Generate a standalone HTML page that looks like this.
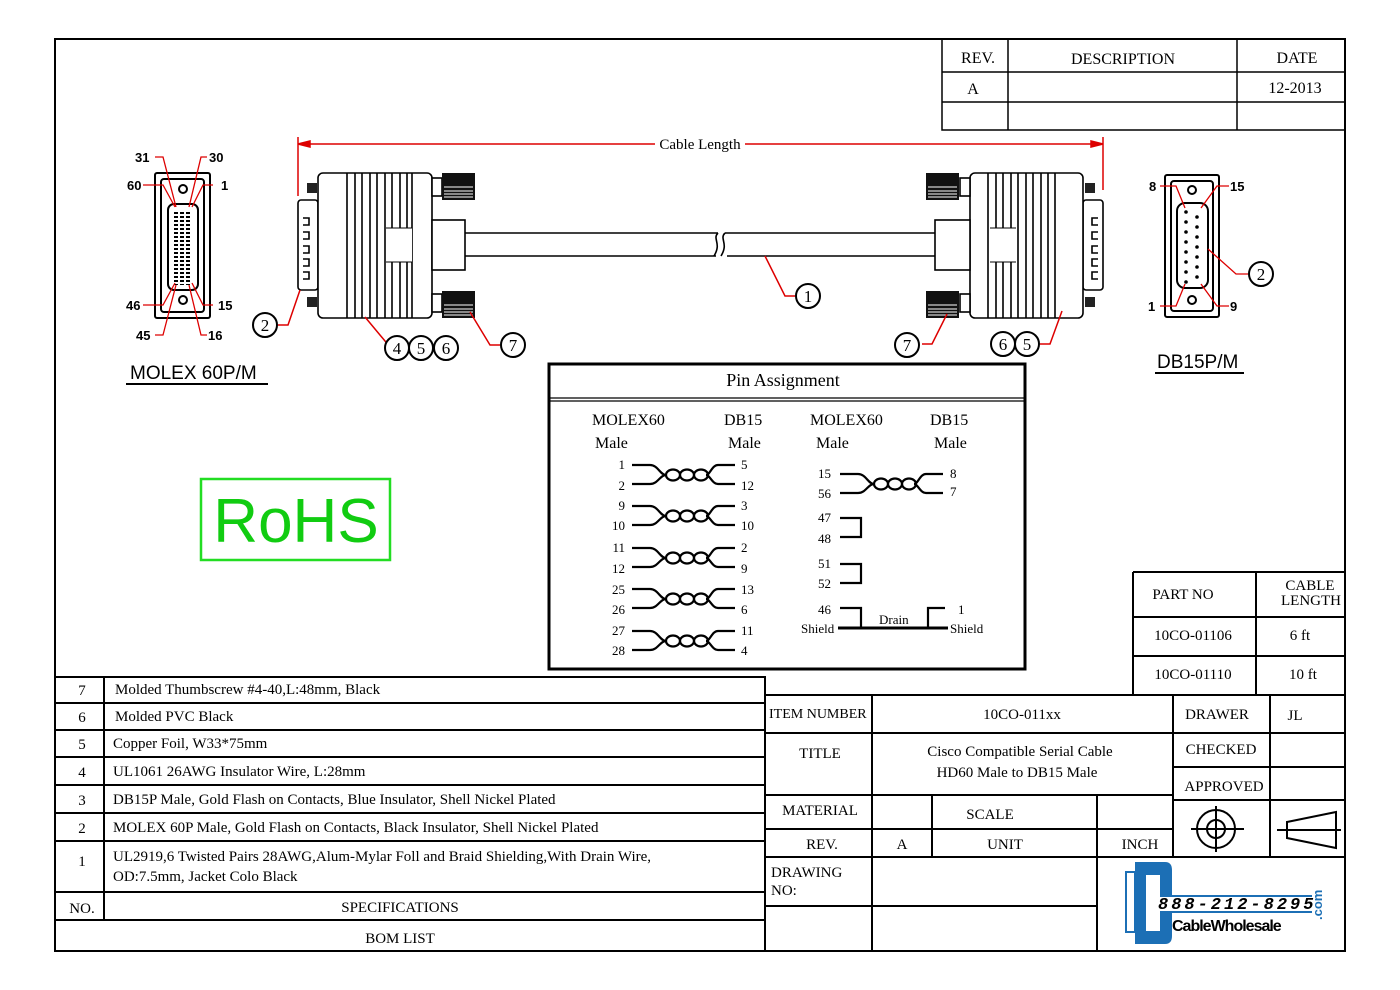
<!DOCTYPE html>
<html><head><meta charset="utf-8"><style>
body{margin:0;background:#fff}
svg{display:block}
text{font-family:"Liberation Serif",serif;fill:#000}
.s{font-family:"Liberation Sans",sans-serif;font-weight:bold}
</style></head><body>
<svg width="1400" height="990" viewBox="0 0 1400 990" xmlns="http://www.w3.org/2000/svg">
<defs>
<g id="tp" fill="none" stroke="#000" stroke-width="2.2">
<path d="M0,0 H18 C26,0 28,10 34,10 M0,19 H18 C26,19 28,10 34,10"/>
<ellipse cx="41" cy="10" rx="7" ry="5.5"/><ellipse cx="55" cy="10" rx="7" ry="5.5"/><ellipse cx="69" cy="10" rx="7" ry="5.5"/>
<path d="M103,0 H86 C80,0 78,10 74,10 M103,19 H86 C80,19 78,10 74,10"/>
</g>
<g id="thumb"><rect x="0" y="0" width="33" height="27" fill="#111"/><path d="M2,14H31M2,18H31M2,21H31M2,24H31" stroke="#fff" stroke-width="1"/></g>
<pattern id="dots" width="6" height="4" patternUnits="userSpaceOnUse"><rect x="0" y="0" width="4" height="2" fill="#000"/></pattern>
</defs>
<rect x="55" y="39" width="1290" height="912" fill="none" stroke="#000" stroke-width="2"/>
<g stroke="#000" stroke-width="1.5" fill="none">
<path d="M942,39V130H1345M942,72H1345M942,102H1345M1008,39V130M1237,39V130"/>
</g>
<text x="978" y="63" font-size="16" text-anchor="middle">REV.</text>
<text x="1123" y="64" font-size="16" text-anchor="middle">DESCRIPTION</text>
<text x="1297" y="63" font-size="16" text-anchor="middle">DATE</text>
<text x="973" y="94" font-size="16" text-anchor="middle">A</text>
<text x="1295" y="93" font-size="16" text-anchor="middle">12-2013</text>
<g stroke="#d00" stroke-width="1.5" fill="#d00">
<path d="M298,144H655M745,144H1103M298,137V196M1103,137V190" fill="none"/>
<path d="M298,144l12,-3v6z M1103,144l-12,-3v6z"/>
</g>
<text x="700" y="149" font-size="15" text-anchor="middle">Cable Length</text>
<g stroke="#000" stroke-width="1.6" fill="#fff">
<rect x="298" y="200" width="20" height="90" rx="3"/>
<rect x="318" y="173" width="114" height="145" rx="5"/>
<rect x="432" y="220" width="33" height="50"/>
<path d="M465,233H718M465,256H716M725,233H935M727,256H935" fill="none"/>
<path d="M718,233c-6,6 4,10 -4,23M725,233c-6,6 4,10 -4,23" fill="none"/>
<rect x="432" y="178" width="10" height="18"/><rect x="432" y="294" width="10" height="18"/>
</g>
<g stroke="#000" stroke-width="1.6">
<path d="M347,173V318M355,173V318M362,173V318M370,173V318M377,173V318M385,173V318M392,173V318M400,173V318M407,173V318M412,173V318" />
</g>
<rect x="386" y="228" width="26" height="34" fill="#fff"/>
<path d="M386,228H412M386,262H412" stroke="#000"/>
<rect x="307" y="183" width="10" height="10" fill="#222"/><rect x="307" y="297" width="10" height="10" fill="#222"/>
<g fill="none" stroke="#000" stroke-width="1.6"><path d="M303,218h6v7h-6M303,232h6v7h-6M303,246h6v7h-6M303,259h6v7h-6M303,272h6v7h-6"/></g>
<use href="#thumb" x="442" y="173"/><use href="#thumb" x="442" y="291"/>
<g stroke="#000" stroke-width="1.6" fill="#fff">
<rect x="1083" y="200" width="20" height="90" rx="3"/>
<rect x="970" y="173" width="113" height="145" rx="5"/>
<rect x="935" y="220" width="35" height="50"/>
<rect x="960" y="178" width="10" height="18"/><rect x="960" y="294" width="10" height="18"/>
</g>
<g stroke="#000" stroke-width="1.6">
<path d="M988,173V318M996,173V318M1003,173V318M1011,173V318M1018,173V318M1026,173V318M1033,173V318M1041,173V318M1048,173V318M1055,173V318"/>
</g>
<rect x="990" y="228" width="26" height="34" fill="#fff"/>
<path d="M990,228H1016M990,262H1016" stroke="#000"/>
<rect x="1085" y="183" width="10" height="10" fill="#222"/><rect x="1085" y="297" width="10" height="10" fill="#222"/>
<g fill="none" stroke="#000" stroke-width="1.6"><path d="M1098,218h-6v7h6M1098,232h-6v7h6M1098,246h-6v7h6M1098,259h-6v7h6M1098,272h-6v7h6"/></g>
<use href="#thumb" x="926" y="173"/><use href="#thumb" x="926" y="291"/>
<g stroke="#000" stroke-width="2" fill="none">
<rect x="155" y="173" width="55" height="145" rx="2"/>
<rect x="161" y="179" width="43" height="133" rx="3"/>
<rect x="168" y="204" width="30" height="86" rx="6"/>
<circle cx="183" cy="189" r="4"/><circle cx="183" cy="300" r="4"/>
</g>
<rect x="174" y="212" width="18" height="73" fill="url(#dots)"/>
<g stroke="#d00" stroke-width="1.3" fill="none">
<path d="M155,157h8l13,50M207,157h-6l-12,50M143,185h20l12,22M213,185h-10l-11,22M143,305h20l12,-22M213,305h-10l-11,-22M155,335h8l13,-50M207,335h-6l-12,-50"/>
</g>
<g class="s" font-size="13">
<text x="135" y="162" class="s">31</text><text x="209" y="162" class="s">30</text>
<text x="127" y="190" class="s">60</text><text x="221" y="190" class="s">1</text>
<text x="126" y="310" class="s">46</text><text x="218" y="310" class="s">15</text>
<text x="136" y="340" class="s">45</text><text x="208" y="340" class="s">16</text>
</g>
<text x="130" y="379" font-size="19" style="font-family:'Liberation Sans',sans-serif">MOLEX 60P/M</text>
<path d="M126,384H268" stroke="#000" stroke-width="2"/>
<g stroke="#000" stroke-width="2" fill="none">
<rect x="1165" y="175" width="54" height="142" rx="2"/>
<rect x="1171" y="181" width="42" height="130" rx="3"/>
<rect x="1177" y="203" width="31" height="85" rx="8"/>
<circle cx="1192" cy="190" r="4"/><circle cx="1192" cy="300" r="4"/>
</g>
<g fill="#000">
<circle cx="1186" cy="212" r="1.8"/><circle cx="1186" cy="222" r="1.8"/><circle cx="1186" cy="232" r="1.8"/><circle cx="1186" cy="242" r="1.8"/><circle cx="1186" cy="252" r="1.8"/><circle cx="1186" cy="262" r="1.8"/><circle cx="1186" cy="272" r="1.8"/><circle cx="1186" cy="282" r="1.8"/>
<circle cx="1197" cy="217" r="1.8"/><circle cx="1197" cy="227" r="1.8"/><circle cx="1197" cy="237" r="1.8"/><circle cx="1197" cy="247" r="1.8"/><circle cx="1197" cy="257" r="1.8"/><circle cx="1197" cy="267" r="1.8"/><circle cx="1197" cy="277" r="1.8"/>
</g>
<g stroke="#d00" stroke-width="1.3" fill="none">
<path d="M1160,186h16l9,22M1229,186h-12l-16,22M1160,306h16l9,-22M1229,306h-12l-16,-22M1248,274h-12l-28,-25"/>
</g>
<g font-size="13"><text x="1149" y="191" class="s">8</text><text x="1230" y="191" class="s">15</text><text x="1148" y="311" class="s">1</text><text x="1230" y="311" class="s">9</text></g>
<text x="1157" y="368" font-size="19" style="font-family:'Liberation Sans',sans-serif">DB15P/M</text>
<path d="M1155,373H1244" stroke="#000" stroke-width="2"/>
<g stroke="#d00" stroke-width="1.5" fill="none">
<path d="M278,325h10l12,-35M410,347h-20l-25,-30M500,345h-10l-20,-33M795,296h-10l-20,-40M922,344h10l15,-30M1040,344h10l12,-33"/>
</g>
<g stroke="#000" stroke-width="2" fill="#fff">
<circle cx="265" cy="325" r="12"/><circle cx="397" cy="348" r="12"/><circle cx="421" cy="348" r="12"/><circle cx="446" cy="348" r="12"/><circle cx="513" cy="345" r="12"/><circle cx="808" cy="296" r="12"/><circle cx="907" cy="345" r="12"/><circle cx="1003" cy="344" r="12"/><circle cx="1027" cy="344" r="12"/><circle cx="1261" cy="274" r="12"/>
</g>
<g font-size="17" text-anchor="middle" style="font-family:'Liberation Sans',sans-serif">
<text x="265" y="331">2</text><text x="397" y="354">4</text><text x="421" y="354">5</text><text x="446" y="354">6</text><text x="513" y="351">7</text><text x="808" y="302">1</text><text x="907" y="351">7</text><text x="1003" y="350">6</text><text x="1027" y="350">5</text><text x="1261" y="280">2</text>
</g>
<rect x="201" y="479" width="189" height="81" fill="none" stroke="#2d2" stroke-width="2.5"/>
<text x="296" y="542" font-size="62" text-anchor="middle" style="font-family:'Liberation Sans',sans-serif;fill:#1c1">RoHS</text>
<rect x="549" y="364" width="476" height="305" fill="none" stroke="#000" stroke-width="3"/>
<path d="M549,398H1025M549,401H1025" stroke="#000" stroke-width="1.2"/>
<text x="783" y="386" font-size="18" text-anchor="middle">Pin Assignment</text>
<g font-size="16">
<text x="592" y="425">MOLEX60</text><text x="724" y="425">DB15</text><text x="595" y="448">Male</text><text x="728" y="448">Male</text>
<text x="810" y="425">MOLEX60</text><text x="930" y="425">DB15</text><text x="816" y="448">Male</text><text x="934" y="448">Male</text>
</g>
<use href="#tp" x="632" y="465"/><use href="#tp" x="632" y="506"/><use href="#tp" x="632" y="548"/><use href="#tp" x="632" y="589"/><use href="#tp" x="632" y="631"/>
<use href="#tp" x="840" y="474"/>
<g font-size="13">
<text x="625" y="469" text-anchor="end">1</text><text x="625" y="490" text-anchor="end">2</text>
<text x="625" y="510" text-anchor="end">9</text><text x="625" y="530" text-anchor="end">10</text>
<text x="625" y="552" text-anchor="end">11</text><text x="625" y="573" text-anchor="end">12</text>
<text x="625" y="594" text-anchor="end">25</text><text x="625" y="614" text-anchor="end">26</text>
<text x="625" y="635" text-anchor="end">27</text><text x="625" y="655" text-anchor="end">28</text>
<text x="741" y="469">5</text><text x="741" y="490">12</text><text x="741" y="510">3</text><text x="741" y="530">10</text>
<text x="741" y="552">2</text><text x="741" y="573">9</text><text x="741" y="594">13</text><text x="741" y="614">6</text>
<text x="741" y="635">11</text><text x="741" y="655">4</text>
<text x="831" y="478" text-anchor="end">15</text><text x="831" y="498" text-anchor="end">56</text>
<text x="950" y="478">8</text><text x="950" y="496">7</text>
<text x="831" y="522" text-anchor="end">47</text><text x="831" y="543" text-anchor="end">48</text>
<text x="831" y="568" text-anchor="end">51</text><text x="831" y="588" text-anchor="end">52</text>
<text x="831" y="614" text-anchor="end">46</text><text x="958" y="614">1</text>
<text x="801" y="633">Shield</text><text x="950" y="633">Shield</text><text x="879" y="624">Drain</text>
</g>
<g stroke="#000" stroke-width="2.2" fill="none">
<path d="M840,518H861V537H840M840,564H861V583H840M840,608H861V628M945,608H928V628"/>
<path d="M838,628H948" stroke-width="3"/>
</g>
<g stroke="#000" stroke-width="2" fill="none">
<path d="M55,677H765V951M55,703H765M55,730H765M55,757H765M55,785H765M55,813H765M55,841H765M55,892H765M55,920H765M104,677V920"/>
</g>
<g font-size="15">
<text x="82" y="695" text-anchor="middle">7</text><text x="115" y="694">Molded Thumbscrew #4-40,L:48mm, Black</text>
<text x="82" y="722" text-anchor="middle">6</text><text x="115" y="721">Molded PVC Black</text>
<text x="82" y="749" text-anchor="middle">5</text><text x="113" y="748">Copper Foil, W33*75mm</text>
<text x="82" y="777" text-anchor="middle">4</text><text x="113" y="776">UL1061 26AWG Insulator Wire, L:28mm</text>
<text x="82" y="805" text-anchor="middle">3</text><text x="113" y="804">DB15P Male, Gold Flash on Contacts, Blue Insulator, Shell Nickel Plated</text>
<text x="82" y="833" text-anchor="middle">2</text><text x="113" y="832">MOLEX 60P Male, Gold Flash on Contacts, Black Insulator, Shell Nickel Plated</text>
<text x="82" y="866" text-anchor="middle">1</text><text x="113" y="861">UL2919,6 Twisted Pairs 28AWG,Alum-Mylar Foll and Braid Shielding,With Drain Wire,</text>
<text x="113" y="881">OD:7.5mm, Jacket Colo Black</text>
<text x="82" y="913" text-anchor="middle">NO.</text><text x="400" y="912" text-anchor="middle">SPECIFICATIONS</text>
<text x="400" y="943" text-anchor="middle">BOM LIST</text>
</g>
<g stroke="#000" stroke-width="2" fill="none">
<path d="M765,695H1345M765,733H1173M765,795H1173M765,829H1173M765,857H1345M765,906H1097M872,695V951M932,795V857M1097,795V951M1173,695V857M1270,695V857M1173,733H1345M1173,767H1345M1173,800H1345"/>
<path d="M1133,572V695M1133,572H1345M1133,617H1345M1133,656H1345M1256,572V695"/>
</g>
<g font-size="15">
<text x="769" y="718" font-size="14">ITEM NUMBER</text><text x="1022" y="719" text-anchor="middle">10CO-011xx</text>
<text x="1217" y="719" text-anchor="middle">DRAWER</text><text x="1295" y="720" text-anchor="middle">JL</text>
<text x="820" y="758" text-anchor="middle">TITLE</text>
<text x="1020" y="756" text-anchor="middle">Cisco Compatible Serial Cable</text>
<text x="1017" y="777" text-anchor="middle">HD60 Male to DB15 Male</text>
<text x="1221" y="754" text-anchor="middle">CHECKED</text><text x="1224" y="791" text-anchor="middle">APPROVED</text>
<text x="820" y="815" text-anchor="middle">MATERIAL</text><text x="990" y="819" text-anchor="middle">SCALE</text>
<text x="822" y="849" text-anchor="middle">REV.</text><text x="902" y="849" text-anchor="middle">A</text>
<text x="1005" y="849" text-anchor="middle">UNIT</text><text x="1140" y="849" text-anchor="middle">INCH</text>
<text x="771" y="877">DRAWING</text><text x="771" y="895">NO:</text>
<text x="1183" y="599" text-anchor="middle">PART NO</text>
<text x="1310" y="590" text-anchor="middle">CABLE</text><text x="1311" y="605" text-anchor="middle">LENGTH</text>
<text x="1193" y="640" text-anchor="middle">10CO-01106</text><text x="1300" y="640" text-anchor="middle">6 ft</text>
<text x="1193" y="679" text-anchor="middle">10CO-01110</text><text x="1303" y="679" text-anchor="middle">10 ft</text>
</g>
<g stroke="#000" stroke-width="2" fill="none">
<circle cx="1216" cy="829" r="19"/><circle cx="1216" cy="829" r="9"/><path d="M1191,829H1244M1216,806V852"/>
<path d="M1287,822L1336,812V848L1287,838ZM1277,830H1341"/>
</g>
<g>
<rect x="1126" y="872" width="9" height="60" fill="none" stroke="#1c6fb5" stroke-width="2"/>
<path d="M1135,862h30c5,0 7,3 7,8v25h-12v-20h-14v56h14v-20h12v25c0,5 -2,8 -7,8h-30z" fill="#1c6fb5"/>
<path d="M1160,896H1312M1160,912H1312" stroke="#1c6fb5" stroke-width="2"/>
<text x="1158" y="909" font-size="17" font-style="italic" font-weight="bold" letter-spacing="3" style="font-family:'Liberation Mono',monospace">888-212-8295</text>
<text x="1172" y="931" font-size="16" class="s" letter-spacing="-1">CableWholesale</text>
<text x="1322" y="920" font-size="13" class="s" transform="rotate(-90 1322 920)" style="fill:#1c6fb5">.com</text>
</g>
</svg>
</body></html>
